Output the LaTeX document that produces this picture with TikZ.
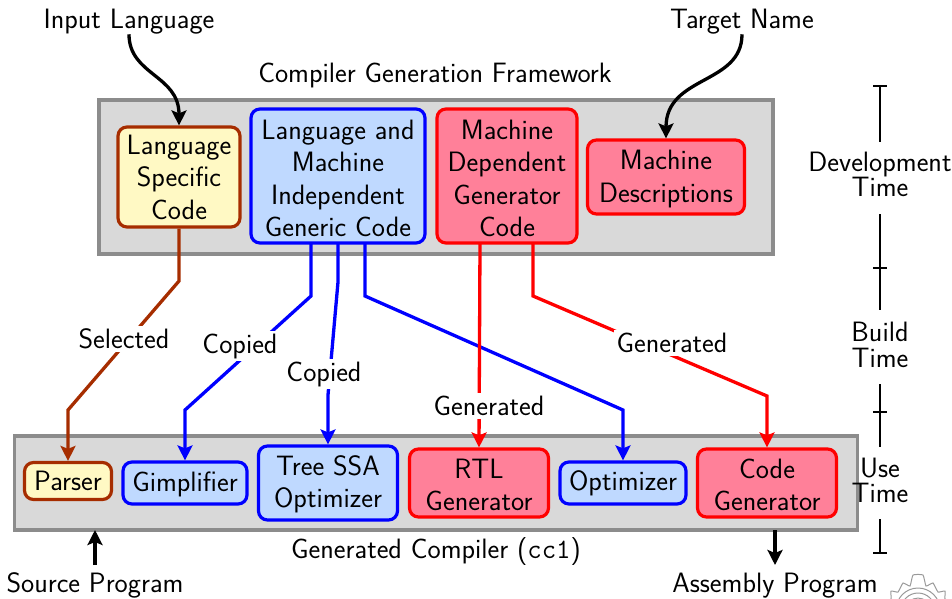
\documentclass[tikz,border=0pt]{standalone}
\usetikzlibrary{arrows.meta,calc}
\renewcommand{\familydefault}{\sfdefault}
\definecolor{panelgray}{gray}{0.85}
\definecolor{panelline}{gray}{0.55}
\definecolor{yfill}{RGB}{255,249,196}
\definecolor{bfill}{RGB}{191,217,255}
\definecolor{rfill}{RGB}{255,128,153}
\definecolor{rust}{RGB}{166,45,0}
\definecolor{gearline}{gray}{0.6}
\tikzset{
 x=1pt,y=-1pt,
 txt/.style={font=\fontsize{28}{32.5}\selectfont\sffamily,align=center,inner sep=0pt,text=black},
 tight/.style={font=\fontsize{28}{25.5}\selectfont\sffamily},
 panel/.style={fill=panelgray,draw=panelline,line width=3.2pt},
 box/.style={txt,rounded corners=9pt,line width=3.2pt,anchor=center},
 ybox/.style={box,draw=rust,fill=yfill},
 bbox/.style={box,draw=blue,fill=bfill},
 rbox/.style={box,draw=red,fill=rfill},
 conn/.style={line width=3.3pt,-{Stealth[length=15pt,width=15pt,inset=3pt]}},
 lab/.style={txt,fill=white,inner sep=3pt},
 bar/.style={line width=1.5pt},
 word/.style={txt},
}
\newcommand{\rbx}[6]{\node[#1,minimum width=#4pt,minimum height=#5pt] (#2) at (#3) {#6};}
\newcommand{\lowr}[1]{\rule{0pt}{#1pt}}
\begin{document}
\begin{tikzpicture}
\useasboundingbox (0,0) rectangle (952,598);
% panels
\node[panel,minimum width=674pt,minimum height=154pt,inner sep=0pt] (top) at (436,177) {};
\node[panel,minimum width=843pt,minimum height=94pt,inner sep=0pt] (bot) at (436,483) {};
% top boxes
\rbx{ybox}{lang}{179,177}{122}{100}{Language\\Specific\\Code}
\rbx{bbox}{gen}{338,176}{174}{134}{\lowr{24}Language and\\Machine\\Independent\\Generic Code}
\rbx{rbox}{dep}{507,176}{140}{134}{\lowr{24}Machine\\Dependent\\Generator\\Code}
\rbx{rbox}{desc}{666,177}{157}{74}{\lowr{23}Machine\\Descriptions}
% bottom boxes
\rbx{ybox}{parser}{68,481}{87}{37}{Parser}
\rbx{bbox}{gimp}{185,483}{124}{42}{\lowr{22}Gimplifier}
\rbx{bbox}{ssa}{328,483}{139}{74}{\lowr{22}Tree SSA\\Optimizer}
\rbx{rbox}{rtl}{479,483}{139}{68}{\lowr{23}RTL\\Generator}
\rbx{bbox}{opt}{623,483}{126}{42}{Optimizer}
\rbx{rbox}{cg}{767,483}{139}{68}{\lowr{23}Code\\Generator}
% free labels
\node[word] (inl) at (129,21.5) {Input Language};
\node[word] (tgt) at (742,21.5) {Target Name};
\node[word] (cgf) at (435,75) {Compiler Generation Framework};
\node[word] (gcc) at (436,552) {Generated Compiler (\texttt{cc1})};
\node[word] (src) at (95,585) {Source Program};
\node[word] (asm) at (775,586) {Assembly Program};
\node[word,tight] (devt) at (880,174.5) {Development\\Time};
\node[word,tight] (bt) at (880,345) {Build\\Time};
\node[word,tight] (ut) at (880,480.5) {Use\\Time};
% curved arrows
\draw[conn] (inl.south) .. controls (129,75) and (179,75) .. (lang.north);
\draw[conn] (tgt.south) .. controls (742,85) and (666,75) .. (desc.north);
% connectors
\coordinate (a1) at (179,281); \coordinate (a2) at (68,410);
\draw[conn,draw=rust] (lang.south) -- (a1) -- (a2) -- (parser.north);
\node[lab] at (124,339) {Selected};
\coordinate (b1) at (311,296); \coordinate (b2) at (185,410);
\draw[conn,draw=blue] (311,243) -- (b1) -- (b2) -- (gimp.north);
\node[lab] at (240,346) {Copied};
\coordinate (c1) at (338,282); \coordinate (c2) at (328,395);
\draw[conn,draw=blue] (338,243) -- (c1) -- (c2) -- (ssa.north);
\node[lab] at (324,374) {Copied};
\coordinate (d1) at (365,296); \coordinate (d2) at (623,410);
\draw[conn,draw=blue] (365,243) -- (d1) -- (d2) -- (opt.north);
\draw[conn,draw=red] (480,243) -- (rtl.north);
\node[lab] at (489,406) {Generated};
\coordinate (e1) at (533,296); \coordinate (e2) at (767,396);
\draw[conn,draw=red] (533,243) -- (e1) -- (e2) -- (cg.north);
\node[lab] at (672,343) {Generated};
% I/O arrows
\coordinate (s1) at (95,565); \coordinate (s2) at (95,530);
\draw[conn,draw=black] (s1) -- (s2);
\coordinate (t1) at (775,530); \coordinate (t2) at (775,565);
\draw[conn,draw=black] (t1) -- (t2);
% time scale
\foreach \a/\b in {86/142,214/310,384/447,519/553}{\draw[bar] (880,\a) -- (880,\b);}
\foreach \y in {86,268,412,553}{\draw[bar] (873,\y) -- (887,\y);}
% faint emblem at the corner
\begin{scope}[shift={(918,610)},draw=gearline,line width=1pt]
 \clip (-40,-40) rectangle (34,-12);
 \draw plot[smooth cycle,tension=0.25] coordinates {
  (-33,0) (-33,-8) (-27,-11) (-27,-19) (-20,-18) (-15,-27) (-8,-24) (-5,-35) (5,-35) (8,-24) (15,-27) (20,-18) (27,-19) (27,-11) (33,-8) (33,0)};
 \draw (0,0) circle[radius=22];
 \draw (0,0) circle[radius=17];
 \draw (0,0) circle[radius=12];
\end{scope}
\end{tikzpicture}
\end{document}
